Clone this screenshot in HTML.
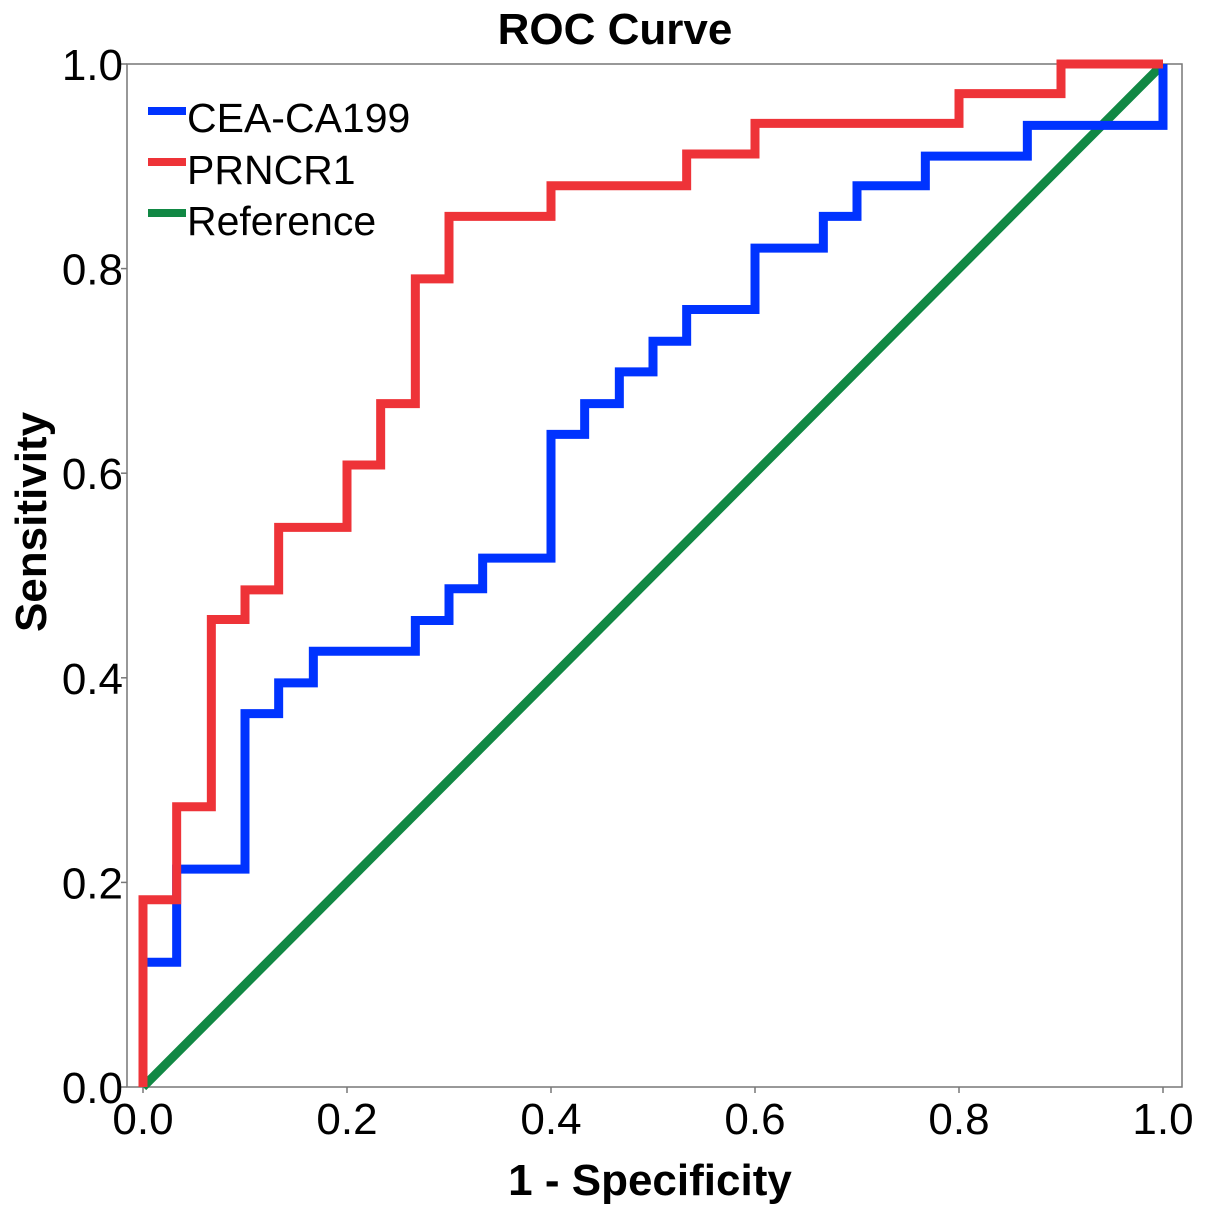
<!DOCTYPE html>
<html><head><meta charset="utf-8"><style>
html,body{margin:0;padding:0;background:#fff;}
svg{display:block;font-family:"Liberation Sans",Arial,sans-serif;}
</style></head><body>
<svg id="chart" width="1205" height="1215" viewBox="0 0 1205 1215">
<text x="615" y="44" text-anchor="middle" font-size="44" font-weight="bold">ROC Curve</text>
<rect x="127" y="64" width="1055" height="1023" fill="none" stroke="#777" stroke-width="1.5"/>
<g id="ticks"></g>
<g id="series"></g>
<text x="650" y="1195" text-anchor="middle" font-size="44" font-weight="bold">1 - Specificity</text>
<text transform="translate(46,522) rotate(-90)" text-anchor="middle" font-size="44" font-weight="bold">Sensitivity</text>
<g>
<line x1="148" y1="111" x2="186" y2="111" stroke="#0033ff" stroke-width="8"/>
<text x="187" y="132" font-size="41">CEA-CA199</text>
<line x1="148" y1="162" x2="186" y2="162" stroke="#ee3338" stroke-width="8"/>
<text x="187" y="184" font-size="41">PRNCR1</text>
<line x1="148" y1="213" x2="186" y2="213" stroke="#118844" stroke-width="8"/>
<text x="187" y="235" font-size="41">Reference</text>
</g>
</svg>
<script>
const xTicks = [0, 0.2, 0.4, 0.6, 0.8, 1.0];
const yTicks = [0, 0.2, 0.4, 0.6, 0.8, 1.0];
const tickLabels = ["0.0", "0.2", "0.4", "0.6", "0.8", "1.0"];
const prncrX = [0, 0.033, 0.067, 0.1, 0.133, 0.2, 0.233, 0.267, 0.3, 0.4, 0.533, 0.6, 0.8, 0.9, 1.0];
const prncrY = [0.183, 0.274, 0.457, 0.486, 0.547, 0.608, 0.668, 0.79, 0.851, 0.881, 0.912, 0.942, 0.971, 1.0, 1.0];
const ceaX = [0, 0.033, 0.1, 0.133, 0.167, 0.267, 0.3, 0.333, 0.4, 0.433, 0.467, 0.5, 0.533, 0.6, 0.667, 0.7, 0.767, 0.867, 1.0];
const ceaY = [0.122, 0.213, 0.365, 0.395, 0.426, 0.456, 0.487, 0.517, 0.638, 0.668, 0.699, 0.729, 0.76, 0.82, 0.851, 0.881, 0.91, 0.94, 1.0];
const refX = [0, 1];
const refY = [0, 1];

const NS = "http://www.w3.org/2000/svg";
const sx = v => 143 + v * 1020;
const sy = v => 1087 - v * 1023;
const ticksG = document.getElementById("ticks");
const seriesG = document.getElementById("series");

xTicks.forEach((t, i) => {
  const l = document.createElementNS(NS, "line");
  l.setAttribute("x1", sx(t)); l.setAttribute("x2", sx(t));
  l.setAttribute("y1", 1087); l.setAttribute("y2", 1093);
  l.setAttribute("stroke", "#777"); l.setAttribute("stroke-width", "1.5");
  
  
  ticksG.appendChild(l);
  const tx = document.createElementNS(NS, "text");
  tx.setAttribute("x", sx(t)); tx.setAttribute("y", 1134);
  tx.setAttribute("text-anchor", "middle"); tx.setAttribute("font-size", "44");
  tx.textContent = tickLabels[i];
  
  
  ticksG.appendChild(tx);
});
yTicks.forEach((t, i) => {
  const l = document.createElementNS(NS, "line");
  l.setAttribute("x1", 121); l.setAttribute("x2", 127);
  l.setAttribute("y1", sy(t)); l.setAttribute("y2", sy(t));
  l.setAttribute("stroke", "#777"); l.setAttribute("stroke-width", "1.5");
  
  
  ticksG.appendChild(l);
  const tx = document.createElementNS(NS, "text");
  tx.setAttribute("x", 123); tx.setAttribute("y", sy(t) + 16);
  tx.setAttribute("text-anchor", "end"); tx.setAttribute("font-size", "44");
  tx.textContent = tickLabels[i];
  
  
  ticksG.appendChild(tx);
});

function stepPath(xs, ys) {
  let d = "M" + sx(0) + "," + sy(0);
  for (let i = 0; i < xs.length; i++) {
    d += " L" + sx(xs[i]) + "," + (i === 0 ? sy(0) : sy(ys[i - 1]));
    d += " L" + sx(xs[i]) + "," + sy(ys[i]);
  }
  return d;
}
function addPath(d, color, name) {
  const p = document.createElementNS(NS, "path");
  p.setAttribute("d", d);
  p.setAttribute("fill", "none");
  p.setAttribute("stroke", color);
  p.setAttribute("stroke-width", "9");
  p.setAttribute("stroke-linejoin", "miter");
  
  
  seriesG.appendChild(p);
}
addPath("M" + sx(refX[0]) + "," + sy(refY[0]) + " L" + sx(refX[1]) + "," + sy(refY[1]), "#118844", "reference-line");
addPath(stepPath(ceaX, ceaY), "#0033ff", "cea-ca199-curve");
addPath(stepPath(prncrX, prncrY), "#ee3338", "prncr1-curve");
</script>
</body></html>
